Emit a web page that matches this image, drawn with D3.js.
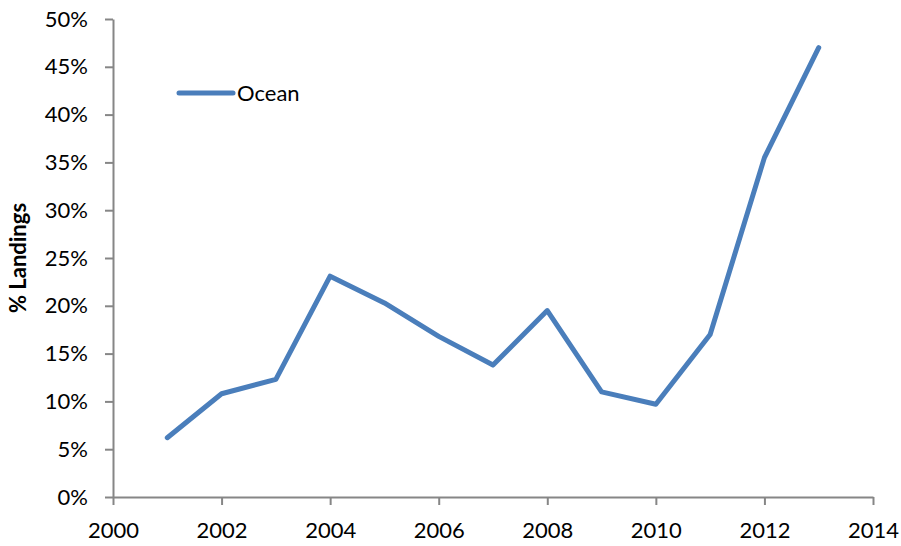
<!DOCTYPE html>
<html>
<head>
<meta charset="utf-8">
<script src="https://cdn.jsdelivr.net/npm/d3@7"></script>
<style>
  body { margin: 0; background: #fff; }
  svg text { font-family: Lato, "Open Sans", sans-serif; fill: #000; }
</style>
</head>
<body>
<svg width="901" height="546"></svg>
<script>
// years and share of landings (%) for the Ocean series
const years = [2001, 2002, 2003, 2004, 2005, 2006, 2007, 2008, 2009, 2010, 2011, 2012, 2013];
const ocean = [6.2, 10.8, 12.3, 23.1, 20.3, 16.8, 13.8, 19.5, 11.0, 9.7, 17.0, 35.5, 47.0];
const xTicks = [2000, 2002, 2004, 2006, 2008, 2010, 2012, 2014];
const yTicks = [0, 5, 10, 15, 20, 25, 30, 35, 40, 45, 50];

const svg = d3.select('svg');
const plotLeft = 113, plotRight = 873, plotTop = 19, plotBottom = 497;

const x = d3.scaleLinear().domain([2000, 2014]).range([plotLeft, plotRight]);
const y = d3.scaleLinear().domain([0, 50]).range([plotBottom, plotTop]);

// y axis
const yAxis = svg.append('g')
  .attr('transform', `translate(${plotLeft},0)`)
  .call(d3.axisLeft(y).tickValues(yTicks).tickSize(8).tickSizeOuter(0).tickFormat(d => d + '%'));

// x axis
const xAxis = svg.append('g')
  .attr('transform', `translate(0,${plotBottom})`)
  .call(d3.axisBottom(x).tickValues(xTicks).tickSize(8).tickSizeOuter(0).tickFormat(d3.format('d')));

[yAxis, xAxis].forEach(a => {
  a.select('.domain').attr('stroke', '#868686').attr('stroke-width', 2);
  a.selectAll('.tick line').attr('stroke', '#868686').attr('stroke-width', 2);
  a.selectAll('text').style('font-size', '22px');
});
yAxis.selectAll('text').attr('x', -25);
xAxis.selectAll('text').attr('y', 25);

// y label
svg.append('text')
  .attr('transform', `translate(26,${(plotTop + plotBottom) / 2}) rotate(-90)`)
  .attr('text-anchor', 'middle')
  .style('font-size', '22px')
  .style('font-weight', 'bold')
  .text('% Landings');

// the line
const line = d3.line()
  .x((d, i) => x(years[i]))
  .y(d => y(d));

svg.append('path')
  .datum(ocean)
  .attr('d', line)
  .attr('fill', 'none')
  .attr('stroke', '#4a7ebb')
  .attr('stroke-width', 5)
  .attr('stroke-linejoin', 'round')
  .attr('stroke-linecap', 'round');

// legend
svg.append('line')
  .attr('x1', 179).attr('x2', 233)
  .attr('y1', 93).attr('y2', 93)
  .attr('stroke', '#4a7ebb')
  .attr('stroke-width', 5)
  .attr('stroke-linecap', 'round');
svg.append('text')
  .attr('x', 237).attr('y', 101)
  .style('font-size', '22px')
  .text('Ocean');
</script>
</body>
</html>
